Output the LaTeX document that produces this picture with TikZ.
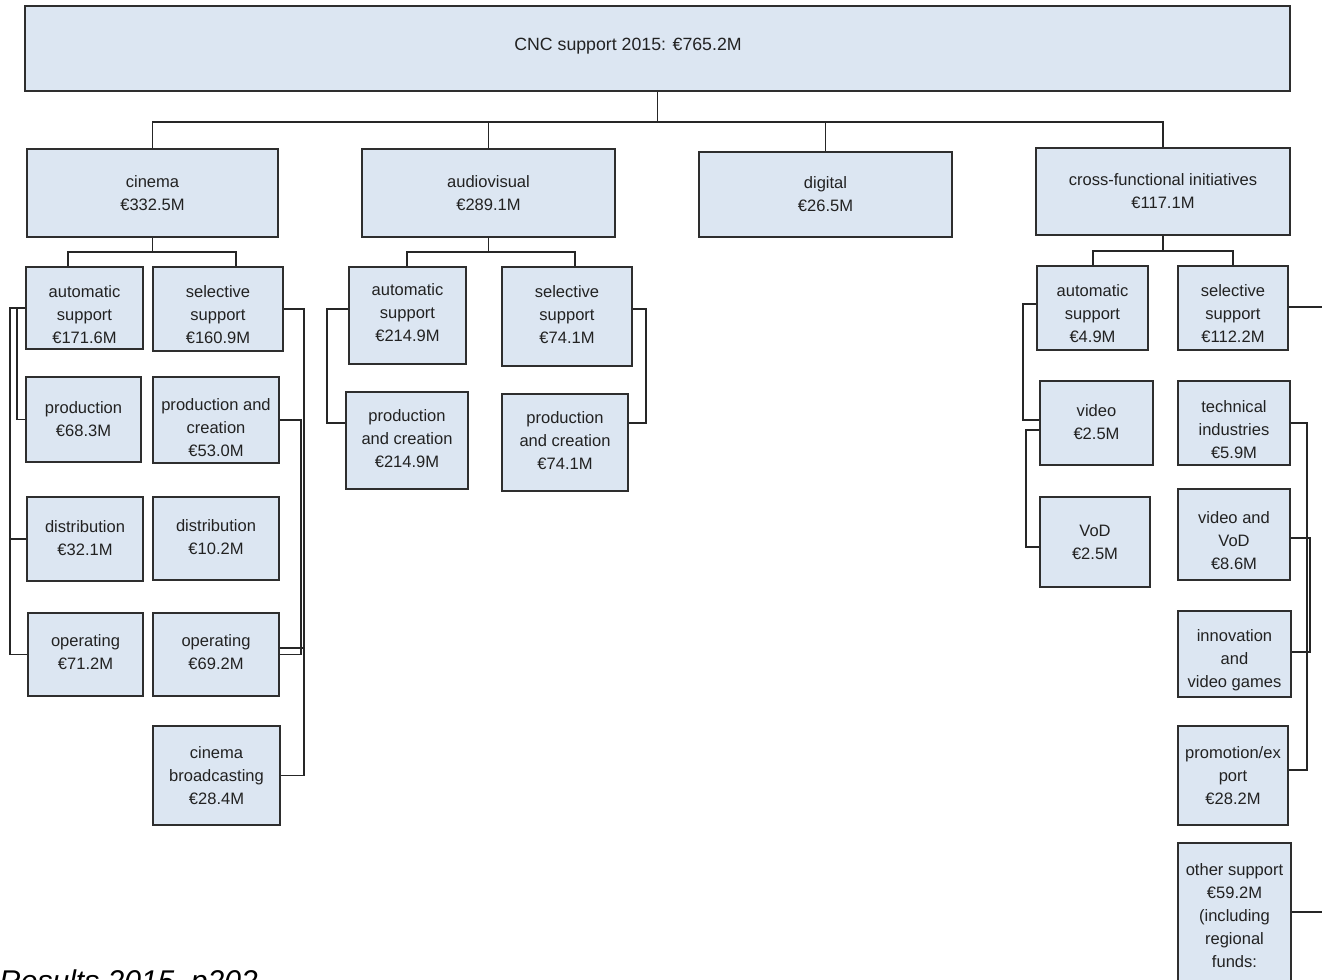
\documentclass[tikz,border=0pt]{standalone}
\usepackage{fontspec}
\setmainfont{Liberation Sans}
\usetikzlibrary{fit}
\definecolor{boxfill}{HTML}{DCE6F2}
\definecolor{boxline}{HTML}{2E2E2E}
\definecolor{linec}{HTML}{262626}
\definecolor{textc}{HTML}{222222}
\begin{document}
\begin{tikzpicture}[x=0.75pt,y=-0.75pt,
  bx/.style={draw=boxline, fill=boxfill, line width=1.4pt, inner sep=0pt, rectangle},
  txt/.style={align=center, inner sep=0pt, text=textc, font=\fontsize{12.4}{17.25}\selectfont},
  conn/.style={draw=linec, line width=1.1pt}]
\useasboundingbox (0,0) rectangle (1322,979);
\clip (0,0) rectangle (1322,979);
\fill[white] (0,0) rectangle (1322,979);

% ---------- boxes ----------
\node[bx, fit={(25,6) (1290,91)}] (root) {};
\node[txt, font=\fontsize{13.3}{17.25}\selectfont] (rootT) at (628,46) {CNC support 2015: €765.2M};

\node[bx, fit={(27,149) (278,237)}] (cin) {};
\node[txt] (cinT) at (152.5,193) {cinema\\€332.5M};
\node[bx, fit={(362,149) (615,237)}] (av) {};
\node[txt] (avT) at (488.5,193) {audiovisual\\€289.1M};
\node[bx, fit={(699,152) (952,237)}] (dig) {};
\node[txt] (digT) at (825.5,194) {digital\\€26.5M};
\node[bx, fit={(1036,148) (1290,235)}] (cross) {};
\node[txt] (crossT) at (1163,191) {cross-functional initiatives\\€117.1M};

% cinema
\node[bx, fit={(26,267) (143,349)}] (cauto) {};
\node[txt] (cautoT) at (84.5,315) {automatic\\support\\€171.6M};
\node[bx, fit={(153,267) (283,351)}] (csel) {};
\node[txt] (cselT) at (218,315) {selective\\support\\€160.9M};
\node[bx, fit={(26,377) (141,462)}] (cprod) {};
\node[txt] (cprodT) at (83.5,419) {production\\€68.3M};
\node[bx, fit={(153,377) (279,463)}] (cpc) {};
\node[txt] (cpcT) at (216,428) {production and\\creation\\€53.0M};
\node[bx, fit={(27,497) (143,581)}] (cdist) {};
\node[txt] (cdistT) at (85,538) {distribution\\€32.1M};
\node[bx, fit={(153,497) (279,580)}] (cdistb) {};
\node[txt] (cdistbT) at (216,537) {distribution\\€10.2M};
\node[bx, fit={(28,613) (143,696)}] (coper) {};
\node[txt] (coperT) at (85.5,652) {operating\\€71.2M};
\node[bx, fit={(153,613) (279,696)}] (coperb) {};
\node[txt] (coperbT) at (216,652) {operating\\€69.2M};
\node[bx, fit={(153,726) (280,825)}] (cbroad) {};
\node[txt] (cbroadT) at (216.5,776) {cinema\\broadcasting\\€28.4M};

% audiovisual
\node[bx, fit={(349,267) (466,364)}] (avauto) {};
\node[txt] (avautoT) at (407.5,313) {automatic\\support\\€214.9M};
\node[bx, fit={(502,267) (632,366)}] (avsel) {};
\node[txt] (avselT) at (567,315) {selective\\support\\€74.1M};
\node[bx, fit={(346,392) (468,489)}] (avpca) {};
\node[txt] (avpcaT) at (407,439) {production\\and creation\\€214.9M};
\node[bx, fit={(502,394) (628,491)}] (avpcb) {};
\node[txt] (avpcbT) at (565,441) {production\\and creation\\€74.1M};

% cross-functional
\node[bx, fit={(1037,266) (1148,350)}] (xauto) {};
\node[txt] (xautoT) at (1092.5,314) {automatic\\support\\€4.9M};
\node[bx, fit={(1178,266) (1288,350)}] (xsel) {};
\node[txt] (xselT) at (1233,314) {selective\\support\\€112.2M};
\node[bx, fit={(1040,381) (1153,465)}] (xvid) {};
\node[txt] (xvidT) at (1096.5,422) {video\\€2.5M};
\node[bx, fit={(1040,497) (1150,587)}] (xvod) {};
\node[txt] (xvodT) at (1095,542) {VoD\\€2.5M};
\node[bx, fit={(1178,381) (1290,465)}] (xtech) {};
\node[txt] (xtechT) at (1234,430) {technical\\industries\\€5.9M};
\node[bx, fit={(1178,489) (1290,580)}] (xvv) {};
\node[txt] (xvvT) at (1234,541) {video and\\VoD\\€8.6M};
\node[bx, fit={(1178,611) (1291,697)}] (xinno) {};
\node[txt] (xinnoT) at (1234.5,660) {innovation\\and\\video games};
\node[bx, fit={(1178,726) (1288,825)}] (xpromo) {};
\node[txt] (xpromoT) at (1233,776) {promotion/ex\\port\\€28.2M};
\node[bx, fit={(1178,843) (1291,990)}] (xother) {};
\node[txt] (xotherT) at (1234.5,916) {other support\\€59.2M\\(including\\regional\\funds:};

% ---------- connector coordinates ----------
\coordinate (bus) at (0,122);
\coordinate (cb1) at (68,252);
\coordinate (cb2) at (236,252);
\coordinate (avb1) at (407,252);
\coordinate (avb2) at (575,252);
\coordinate (xb1) at (1093,251);
\coordinate (xb2) at (1233,251);
\coordinate (cLo) at (10,0);
\coordinate (cLi) at (17,0);
\coordinate (cRo) at (304,0);
\coordinate (cRi) at (301,0);
\coordinate (cop2b) at (304,648);
\coordinate (avL) at (327,309);
\coordinate (avL2) at (327,423);
\coordinate (avR) at (646,309);
\coordinate (avR2) at (646,423);
\coordinate (xL1) at (1023,304);
\coordinate (xL1b) at (1023,420);
\coordinate (xL2) at (1026,430);
\coordinate (xL2b) at (1026,547);
\coordinate (xR1) at (1307,423);
\coordinate (xR1b) at (1307,770);
\coordinate (xR2) at (1310,538);
\coordinate (xR2b) at (1310,652);
\coordinate (xE1) at (1335,307);
\coordinate (xE2) at (1335,912);

% ---------- connectors ----------
\draw[conn] (root.south) -- (root.south |- bus);
\draw[conn] (cin.north) |- (cross.north |- bus) -- (cross.north);
\draw[conn] (av.north) -- (av.north |- bus);
\draw[conn] (dig.north) -- (dig.north |- bus);

\draw[conn] (cin.south) -- (cin.south |- cb1);
\draw[conn] (cauto.north -| cb1) -- (cb1) -- (cb2) -- (csel.north -| cb2);
\draw[conn] (av.south) -- (av.south |- avb1);
\draw[conn] (avauto.north -| avb1) -- (avb1) -- (avb2) -- (avsel.north -| avb2);
\draw[conn] (cross.south) -- (cross.south |- xb1);
\draw[conn] (xauto.north -| xb1) -- (xb1) -- (xb2) -- (xsel.north -| xb2);

% cinema brackets
\draw[conn] (cauto.west) -- (cauto.west -| cLo) |- (coper.west);
\draw[conn] (cdist.west) -- (cdist.west -| cLo);
\draw[conn] (cauto.west) -- (cauto.west -| cLi) |- (cprod.west);
\draw[conn] (csel.east) -- (csel.east -| cRo) |- (cbroad.east);
\draw[conn] (cpc.east) -- (cpc.east -| cRi) |- (coperb.east);
\draw[conn] (coperb.east |- cop2b) -- (cop2b);

% audiovisual brackets
\draw[conn] (avauto.west |- avL) -- (avL) -- (avL2) -- (avpca.west |- avL2);
\draw[conn] (avsel.east |- avR) -- (avR) -- (avR2) -- (avpcb.east |- avR2);

% cross-functional brackets
\draw[conn] (xauto.west |- xL1) -- (xL1) -- (xL1b) -- (xvid.west |- xL1b);
\draw[conn] (xvid.west |- xL2) -- (xL2) -- (xL2b) -- (xvod.west |- xL2b);
\draw[conn] (xtech.east |- xR1) -- (xR1) -- (xR1b) -- (xpromo.east |- xR1b);
\draw[conn] (xvv.east |- xR2) -- (xR2) -- (xR2b) -- (xinno.east |- xR2b);
\draw[conn] (xsel.east |- xE1) -- (xE1);
\draw[conn] (xother.east |- xE2) -- (xE2);

% source line (cut off at the bottom edge, as in the reference)
\node[anchor=base west, inner sep=0pt, font=\itshape\fontsize{22.5}{27}\selectfont] (src) at (-1,991) {Results 2015, p202};
\end{tikzpicture}
\end{document}
